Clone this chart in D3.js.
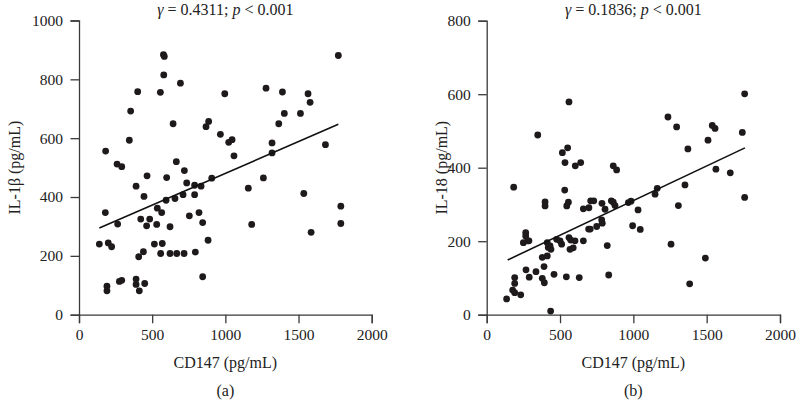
<!DOCTYPE html>
<html>
<head>
<meta charset="utf-8">
<script src="https://cdn.jsdelivr.net/npm/d3@7"></script>
<style>
  html, body { margin: 0; padding: 0; background: #fff; }
  svg { display: block; font-family: "Liberation Serif", "Times New Roman", serif; }
</style>
</head>
<body>
<svg id="chart" width="796" height="402"></svg>
<script>
// ---- Data (CD147 vs IL-1β), panel (a)
const cd147A = [577,583,579,693,401,556,996,353,886,868,643,966,1046,1023,344,182,1059,260,292,665,720,465,599,907,1772,1278,1390,1565,1579,1403,1513,1365,1319,1319,1684,1260,139,180,200,223,264,191,191,276,292,390,444,390,390,412,449,408,440,422,483,462,531,535,565,515,569,558,622,668,718,622,595,656,736,711,754,790,790,834,820,845,882,795,845,1157,1180,1536,1586,1789,1789];
const il1b   = [884,878,815,787,758,756,751,692,657,639,649,613,595,586,593,556,540,512,503,520,490,472,466,464,881,770,757,751,722,684,684,649,584,550,578,465,240,347,244,231,308,97,81,113,117,437,402,121,103,81,106,197,214,325,325,302,307,362,347,240,242,208,208,208,208,299,389,395,448,408,336,408,440,437,347,313,253,213,129,430,307,412,280,369,310];
const fitA = [[139, 295], [1772, 647]];

// ---- Data (CD147 vs IL-18), panel (b)
const cd147B = [561,348,552,516,534,604,641,863,886,1759,1236,1295,1538,1557,1743,1509,1372,1563,1661,184,532,398,398,557,546,659,697,709,730,786,807,850,863,875,788,784,695,706,750,266,266,288,250,280,413,432,438,420,477,500,511,561,573,590,568,602,659,822,379,413,391,268,290,336,379,393,459,543,631,832,191,191,177,191,232,136,436,1352,1759,1163,1148,1307,984,966,1032,995,1047,1257,1491,1384];
const il18   = [579,489,454,441,414,405,414,405,394,601,538,511,515,507,496,475,451,396,386,347,339,307,296,306,296,288,291,310,310,303,287,310,306,297,249,258,233,233,240,223,214,201,196,201,196,187,178,183,205,201,192,210,203,182,178,201,201,188,156,160,131,122,102,117,99,87,110,103,101,108,101,85,67,60,54,43,10,353,319,344,328,297,309,305,285,242,232,192,154,84];
const fitB = [[143, 149], [1761, 454]];

const xTicks = [0, 500, 1000, 1500, 2000];
const yTicksA = [0, 200, 400, 600, 800, 1000];
const yTicksB = [0, 200, 400, 600, 800];

const titleA = ["\u03B3", " = 0.4311; ", "p", " < 0.001"];
const titleB = ["\u03B3", " = 0.1836; ", "p", " < 0.001"];
const yLabels = ["IL-1\u03B2 (pg/mL)", "IL-18 (pg/mL)"];
const xLabel = "CD147 (pg/mL)";
const panelLabels = ["(a)", "(b)"];

const svg = d3.select("#chart");
const axisColor = "#3a3a3a";
const dotColor = "#1e1a1b";

const panels = [
  { xs: cd147A, ys: il1b, fit: fitA, yTicks: yTicksA, yMax: 1000,
    x0: 79, x1: 371.7, y0: 314.7, y1: 20.5, titleParts: titleA,
    ylab: yLabels[0], ylabX: 14, panel: panelLabels[0] },
  { xs: cd147B, ys: il18, fit: fitB, yTicks: yTicksB, yMax: 800,
    x0: 486.7, x1: 780, y0: 314.7, y1: 20.7, titleParts: titleB,
    ylab: yLabels[1], ylabX: 441, panel: panelLabels[1] }
];

panels.forEach(p => {
  const x = d3.scaleLinear().domain([0, 2000]).range([p.x0, p.x1]);
  const y = d3.scaleLinear().domain([0, p.yMax]).range([p.y0, p.y1]);
  const cx = (p.x0 + p.x1) / 2;

  const gx = svg.append("g").attr("transform", `translate(0,${p.y0})`)
    .call(d3.axisBottom(x).tickValues(xTicks).tickFormat(d3.format("d"))
      .tickSize(8.5).tickSizeOuter(8.5).tickPadding(5.5));
  const gy = svg.append("g").attr("transform", `translate(${p.x0},0)`)
    .call(d3.axisLeft(y).tickValues(p.yTicks).tickFormat(d3.format("d"))
      .tickSize(8.5).tickSizeOuter(8.5).tickPadding(7.5));
  [gx, gy].forEach(g => {
    g.selectAll("path, line").attr("stroke", axisColor).attr("stroke-width", 1.3);
    g.selectAll("text").attr("fill", "#222").style("font-size", "15.5px")
      .style("font-family", "'Liberation Serif', serif");
  });

  svg.append("g").selectAll("circle")
    .data(p.xs.map((v, i) => [v, p.ys[i]]))
    .join("circle")
    .attr("cx", d => x(d[0])).attr("cy", d => y(d[1]))
    .attr("r", 3.4).attr("fill", dotColor);

  svg.append("line")
    .attr("x1", x(p.fit[0][0])).attr("y1", y(p.fit[0][1]))
    .attr("x2", x(p.fit[1][0])).attr("y2", y(p.fit[1][1]))
    .attr("stroke", "#111").attr("stroke-width", 1.6);

  const t = svg.append("text").attr("x", cx).attr("y", 14.5)
    .attr("text-anchor", "middle").style("font-size", "16px").attr("fill", "#222");
  p.titleParts.forEach((s, i) => {
    t.append("tspan").text(s).style("font-style", (i === 0 || i === 2) ? "italic" : "normal");
  });

  svg.append("text")
    .attr("transform", `translate(${p.ylabX},${(p.y0 + p.y1) / 2}) rotate(-90)`)
    .attr("text-anchor", "middle").attr("dominant-baseline", "central")
    .style("font-size", "16px").attr("fill", "#222").text(p.ylab);

  svg.append("text").attr("x", cx).attr("y", 362)
    .attr("text-anchor", "middle").attr("dominant-baseline", "central")
    .style("font-size", "16px").attr("fill", "#222").text(xLabel);

  svg.append("text").attr("x", cx).attr("y", 390)
    .attr("text-anchor", "middle").attr("dominant-baseline", "central")
    .style("font-size", "16px").attr("fill", "#222").text(p.panel);
});
</script>
</body>
</html>
